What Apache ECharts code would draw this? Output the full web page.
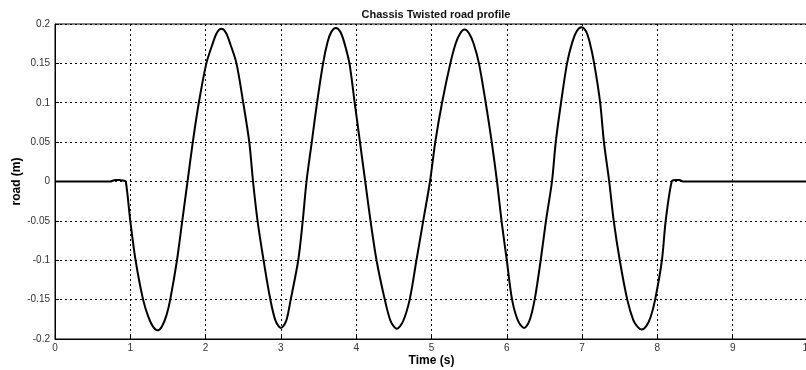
<!DOCTYPE html>
<html>
<head>
<meta charset="utf-8">
<script src="https://cdn.jsdelivr.net/npm/echarts@6/dist/echarts.min.js"></script>
<style>
  html, body { margin: 0; padding: 0; background: #fff; }
  #chart { width: 806px; height: 370px; }
</style>
</head>
<body>
<div id="chart"></div>
<script>
// road profile values (time in s, road in m)
var time = [0, 0.5, 0.73, 0.8, 0.86, 0.91, 0.94, 1.0, 1.07, 1.17, 1.24, 1.30, 1.36, 1.42, 1.48, 1.53, 1.62, 1.69, 1.76,
  1.83, 1.91, 2.01, 2.09, 2.15, 2.21, 2.27, 2.33, 2.41, 2.50, 2.58, 2.63,
  2.69, 2.77, 2.86, 2.93, 3.0, 3.07, 3.13, 3.23, 3.29, 3.34,
  3.41, 3.48, 3.56, 3.62, 3.67, 3.73, 3.79, 3.84, 3.91, 3.98, 4.05, 4.12,
  4.19, 4.27, 4.38, 4.46, 4.54, 4.62, 4.71, 4.80, 4.89, 4.98,
  5.05, 5.14, 5.25, 5.32, 5.38, 5.44, 5.50, 5.56, 5.63, 5.72, 5.80, 5.87,
  5.93, 6.0, 6.07, 6.15, 6.23, 6.30, 6.37, 6.45, 6.52, 6.60,
  6.65, 6.72, 6.80, 6.87, 6.93, 6.99, 7.05, 7.10, 7.16, 7.24, 7.29, 7.36,
  7.42, 7.50, 7.60, 7.68, 7.74, 7.79, 7.85, 7.91, 7.97, 8.06, 8.11, 8.19, 8.24, 8.29, 8.34, 8.5, 10];
var road = [0, 0, 0, 0.002, 0.002, 0.001, 0, -0.05, -0.1, -0.15, -0.172, -0.184, -0.189, -0.184, -0.17, -0.15, -0.1, -0.05, 0,
  0.05, 0.1, 0.15, 0.174, 0.189, 0.194, 0.189, 0.174, 0.15, 0.1, 0.05, 0,
  -0.05, -0.1, -0.15, -0.177, -0.186, -0.177, -0.15, -0.1, -0.05, 0,
  0.05, 0.1, 0.15, 0.177, 0.19, 0.195, 0.19, 0.177, 0.15, 0.1, 0.05, 0,
  -0.05, -0.1, -0.15, -0.178, -0.187, -0.178, -0.15, -0.1, -0.05, 0,
  0.05, 0.1, 0.15, 0.175, 0.188, 0.193, 0.188, 0.175, 0.15, 0.1, 0.05, 0,
  -0.05, -0.1, -0.15, -0.177, -0.186, -0.177, -0.15, -0.1, -0.05, 0,
  0.05, 0.1, 0.15, 0.177, 0.191, 0.196, 0.191, 0.177, 0.15, 0.1, 0.05, 0,
  -0.05, -0.1, -0.15, -0.176, -0.185, -0.188, -0.184, -0.172, -0.15, -0.1, -0.05, 0, 0.002, 0.002, 0, 0, 0];
var xTicks = [0, 1, 2, 3, 4, 5, 6, 7, 8, 9, 10];
var yTicks = [-0.2, -0.15, -0.1, -0.05, 0, 0.05, 0.1, 0.15, 0.2];

var points = time.map(function (t, i) { return [t, road[i]]; });

var myChart = echarts.init(document.getElementById('chart'));
var font = 'Liberation Sans';
var gridLine = { show: true, lineStyle: { color: '#000', type: [2, 3], width: 1 } };
var option = {
  animation: false,
  backgroundColor: '#fff',
  title: {
    text: 'Chassis Twisted road profile',
    left: 431, top: 4, textAlign: 'center',
    textStyle: { fontFamily: font, fontSize: 11, fontWeight: 'bold', color: '#111' }
  },
  grid: {
    left: 55, right: -2, top: 24, bottom: 31,
    outerBoundsMode: 'none', containLabel: false,
    show: true, borderColor: '#000', borderWidth: 1
  },
  xAxis: {
    type: 'value',
    min: xTicks[0], max: xTicks[xTicks.length - 1], interval: 1,
    name: 'Time (s)', nameLocation: 'middle', nameGap: 16, nameMoveOverlap: false,
    nameTextStyle: { fontFamily: font, fontSize: 12, fontWeight: 'bold', color: '#000' },
    axisLine: { onZero: false, lineStyle: { color: '#000' } },
    axisTick: { inside: true, length: 4, lineStyle: { color: '#000' } },
    axisLabel: { color: '#333', fontFamily: font, fontSize: 10, margin: 4 },
    splitLine: gridLine
  },
  yAxis: {
    type: 'value',
    min: yTicks[0], max: yTicks[yTicks.length - 1], interval: 0.05,
    name: 'road (m)', nameLocation: 'middle', nameGap: 32, nameRotate: 90, nameMoveOverlap: false,
    nameTextStyle: { fontFamily: font, fontSize: 12, fontWeight: 'bold', color: '#000' },
    axisLine: { show: true, onZero: false, lineStyle: { color: '#000' } },
    axisTick: { show: true, inside: true, length: 4, lineStyle: { color: '#000' } },
    axisLabel: { color: '#333', fontFamily: font, fontSize: 10, margin: 5 },
    splitLine: gridLine
  },
  series: [{
    type: 'line',
    data: points,
    symbol: 'none',
    smooth: 0.3,
    lineStyle: { color: '#000', width: 2 }
  }]
};
myChart.setOption(option);
</script>
</body>
</html>
